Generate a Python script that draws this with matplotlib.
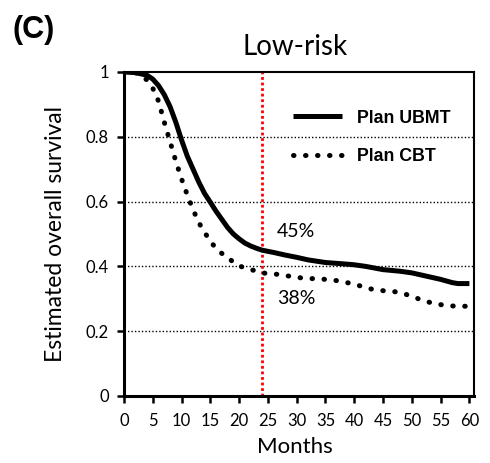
import matplotlib
matplotlib.use("Agg")
import matplotlib.pyplot as plt

# survival curves (months, fraction alive)
months_ubmt = [0, 2, 4, 5, 6, 7, 8, 9, 10, 11, 12, 13, 14, 15, 16, 17, 18, 19,
               20, 21, 22, 23, 24, 26, 28, 30, 32, 35, 38, 40, 42, 45, 48, 50,
               52, 55, 57, 58, 60]
surv_ubmt = [1.0, 0.998, 0.99, 0.978, 0.958, 0.93, 0.893, 0.845, 0.79, 0.74,
             0.70, 0.66, 0.625, 0.598, 0.57, 0.545, 0.52, 0.50, 0.485, 0.472,
             0.463, 0.456, 0.45, 0.443, 0.435, 0.428, 0.42, 0.412, 0.408,
             0.405, 0.40, 0.39, 0.385, 0.38, 0.372, 0.36, 0.35, 0.347, 0.347]

months_cbt = [0, 2, 3, 4, 5, 6, 7, 8, 9, 10, 11, 12, 13, 14, 15, 16, 17, 18, 19,
              20, 21, 22, 23, 24, 25, 27, 29, 31, 33, 35, 37, 39, 41, 43, 45,
              47, 48, 50, 52, 54, 56, 58, 60]
surv_cbt = [1.0, 0.998, 0.99, 0.975, 0.95, 0.91, 0.845, 0.785, 0.725, 0.67,
            0.62, 0.575, 0.535, 0.505, 0.478, 0.455, 0.44, 0.428, 0.413, 0.402,
            0.395, 0.39, 0.386, 0.38, 0.378, 0.375, 0.369, 0.364, 0.362, 0.36,
            0.356, 0.349, 0.34, 0.33, 0.325, 0.322, 0.319, 0.308, 0.294, 0.285,
            0.279, 0.277, 0.277]

cut_month = 24
labels = ["Plan UBMT", "Plan CBT"]
x_ticks = list(range(0, 61, 5))
y_ticks = [0, 0.2, 0.4, 0.6, 0.8, 1]
y_tick_labels = ["0", "0.2", "0.4", "0.6", "0.8", "1"]
grid_levels = [0.2, 0.4, 0.6, 0.8]

plt.rcParams['font.family'] = ['Lato', 'DejaVu Sans']

fig = plt.figure(figsize=(4.9, 4.63), dpi=100)
ax = fig.add_axes([124 / 490, 67 / 463, 350 / 490, 324 / 463])

for lev in grid_levels:
    ax.axhline(lev, color='black', lw=1.0, ls=(0, (1, 1.5)), zorder=1)

ax.axvline(cut_month, color='#ff0000', lw=2.0, ls=(0, (1, 1)), zorder=2)

l1, = ax.plot(months_ubmt, surv_ubmt, color='black', lw=3.6,
              solid_capstyle='butt', zorder=3)
l2, = ax.plot(months_cbt, surv_cbt, color='black', lw=3.6,
              ls=(0, (0.1, 2.3)), dash_capstyle='round', zorder=3)

ax.set_xlim(0, 60.8)
ax.set_ylim(0, 1)
ax.set_xticks(x_ticks)
ax.set_yticks(y_ticks)
ax.set_yticklabels(y_tick_labels)
ax.tick_params(direction='out', length=5, width=1.8, labelsize=12, pad=6)
ax.tick_params(axis='x', pad=7)

for side in ['left', 'bottom']:
    ax.spines[side].set_linewidth(2.2)
for side in ['top', 'right']:
    ax.spines[side].set_linewidth(1.5)

ax.set_xlabel("Months", fontsize=16)
ax.xaxis.set_label_coords(0.489, -0.128)
ax.set_ylabel("Estimated overall survival", fontsize=16.5)
ax.yaxis.set_label_coords(-0.165, 0.5)

ax.text(0.489, 1.052, "Low-risk", transform=ax.transAxes, ha='center',
        va='baseline', fontsize=20)
fig.text(12 / 490, 1 - 30 / 463, "(C)", ha='left', va='center',
         fontsize=22, fontweight='bold', family='Liberation Sans')

ax.text(26.6, 0.508, "45%", fontsize=14, va='center', ha='left')
ax.text(26.6, 0.30, "38%", fontsize=14, va='center', ha='left')

ax.legend([l1, l2], labels, loc='upper left', bbox_to_anchor=(0.483, 0.884),
          frameon=False, borderpad=0, borderaxespad=0, handlelength=2.75,
          handletextpad=0.85, labelspacing=1.23,
          prop={'family': 'Liberation Sans', 'weight': 'bold', 'size': 12.8})

fig.savefig("out.png", dpi=100)
